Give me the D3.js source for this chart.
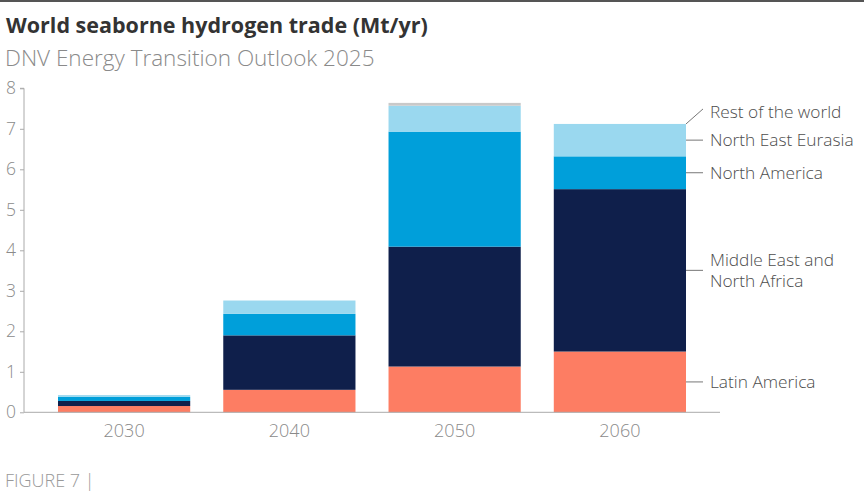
<!DOCTYPE html>
<html>
<head>
<meta charset="utf-8">
<script src="https://cdn.jsdelivr.net/npm/d3@7"></script>
<style>
  body { margin: 0; background: #fff; }
  text { font-family: "Open Sans", "Noto Sans", sans-serif; }
</style>
</head>
<body>
<script>
const width = 864;
const height = 498;
const font = "'Open Sans', 'Noto Sans', sans-serif";

// values (Mt/yr)
const years = ["2030", "2040", "2050", "2060"];
const regions = ["Latin America", "Middle East and North Africa", "North America", "North East Eurasia", "Rest of the world"];
const latinAmerica = [0.155, 0.555, 1.13, 1.50];
const middleEastNorthAfrica = [0.125, 1.345, 2.96, 4.01];
const northAmerica = [0.10, 0.53, 2.84, 0.81];
const northEastEurasia = [0.045, 0.33, 0.64, 0.80];
const restOfWorld = [0, 0, 0.07, 0];
const yTicks = [0, 1, 2, 3, 4, 5, 6, 7, 8];

const colors = ["#fd7d63", "#0f1f4b", "#009fda", "#9ad8ef", "#c9c9c9"];

const rows = years.map((yr, i) => ({
    year: yr,
    "Latin America": latinAmerica[i],
    "Middle East and North Africa": middleEastNorthAfrica[i],
    "North America": northAmerica[i],
    "North East Eurasia": northEastEurasia[i],
    "Rest of the world": restOfWorld[i]
}));
const series = d3.stack().keys(regions)(rows);

const svg = d3.select("body").append("svg")
    .attr("width", width)
    .attr("height", height);

// top rule
svg.append("line")
    .attr("x1", 0).attr("x2", width)
    .attr("y1", 1).attr("y2", 1)
    .attr("stroke", "#555")
    .attr("stroke-width", 2);

svg.append("text")
    .attr("x", 6).attr("y", 33)
    .attr("font-size", 21.5)
    .attr("font-weight", 700)
    .attr("fill", "#333")
    .text("World seaborne hydrogen trade (Mt/yr)");

svg.append("text")
    .attr("x", 5).attr("y", 66)
    .attr("font-size", 22.5)
    .attr("font-weight", 300)
    .attr("fill", "#8a8a8a")
    .text("DNV Energy Transition Outlook 2025");

const x = d3.scaleBand()
    .domain(years)
    .range([58, 686])
    .paddingInner(0.2)
    .paddingOuter(0);

const y = d3.scaleLinear()
    .domain([0, 8])
    .range([412.3, 88.3]);

// bars
svg.append("g")
  .selectAll("g")
  .data(series)
  .join("g")
    .attr("fill", (d, i) => colors[i])
  .selectAll("rect")
  .data(d => d)
  .join("rect")
    .attr("x", d => x(d.data.year))
    .attr("y", d => y(d[1]))
    .attr("width", x.bandwidth())
    .attr("height", d => y(d[0]) - y(d[1]));

// y axis
const yAxis = svg.append("g")
    .attr("transform", "translate(24,0)")
    .call(d3.axisLeft(y).tickValues(yTicks).tickSize(4).tickPadding(4));
yAxis.select(".domain").attr("stroke", "#aaa").attr("d", `M-4,${y(8)}H0V${y(0)}`);
yAxis.selectAll(".tick line").attr("stroke", "#aaa");
yAxis.selectAll(".tick text")
    .attr("font-family", font)
    .attr("font-size", 17.5)
    .attr("font-weight", 300)
    .attr("fill", "#8a8a8a");

// baseline
svg.append("line")
    .attr("x1", 24).attr("x2", 720)
    .attr("y1", y(0)).attr("y2", y(0))
    .attr("stroke", "#aaa");

// x labels
const xAxis = svg.append("g")
    .attr("transform", `translate(0,${y(0)})`)
    .call(d3.axisBottom(x).tickSize(0).tickPadding(12));
xAxis.select(".domain").remove();
xAxis.selectAll(".tick text")
    .attr("font-family", font)
    .attr("font-size", 18)
    .attr("font-weight", 300)
    .attr("fill", "#8a8a8a");

// direct labels on the 2060 bar
const last = years.length - 1;
const barRight = x(years[last]) + x.bandwidth();
const labelGroup = svg.append("g");
series.forEach((s, i) => {
    const seg = s[last];
    let ly = (y(seg[0]) + y(seg[1])) / 2;
    if (regions[i] === "Rest of the world") {
        const top = y(seg[1]);
        ly = top - 12;
        labelGroup.append("line")
            .attr("x1", barRight).attr("y1", top)
            .attr("x2", barRight + 17).attr("y2", top - 15)
            .attr("stroke", "#777");
    } else {
        labelGroup.append("line")
            .attr("x1", barRight).attr("x2", barRight + 17)
            .attr("y1", ly).attr("y2", ly)
            .attr("stroke", "#777");
    }
    const lines = regions[i] === "Middle East and North Africa"
        ? ["Middle East and", "North Africa"] : [regions[i]];
    const t = labelGroup.append("text")
        .attr("y", ly - (lines.length - 1) * 10.5)
        .attr("font-size", 17.3)
        .attr("font-weight", 300)
        .attr("fill", "#4d4d4d");
    lines.forEach((l, j) => {
        t.append("tspan")
            .attr("x", barRight + 24)
            .attr("dy", j === 0 ? "0.35em" : 21)
            .text(l);
    });
});

svg.append("text")
    .attr("x", 5).attr("y", 487)
    .attr("font-size", 18)
    .attr("font-weight", 300)
    .attr("fill", "#999")
    .text("FIGURE 7 |");
</script>
</body>
</html>
